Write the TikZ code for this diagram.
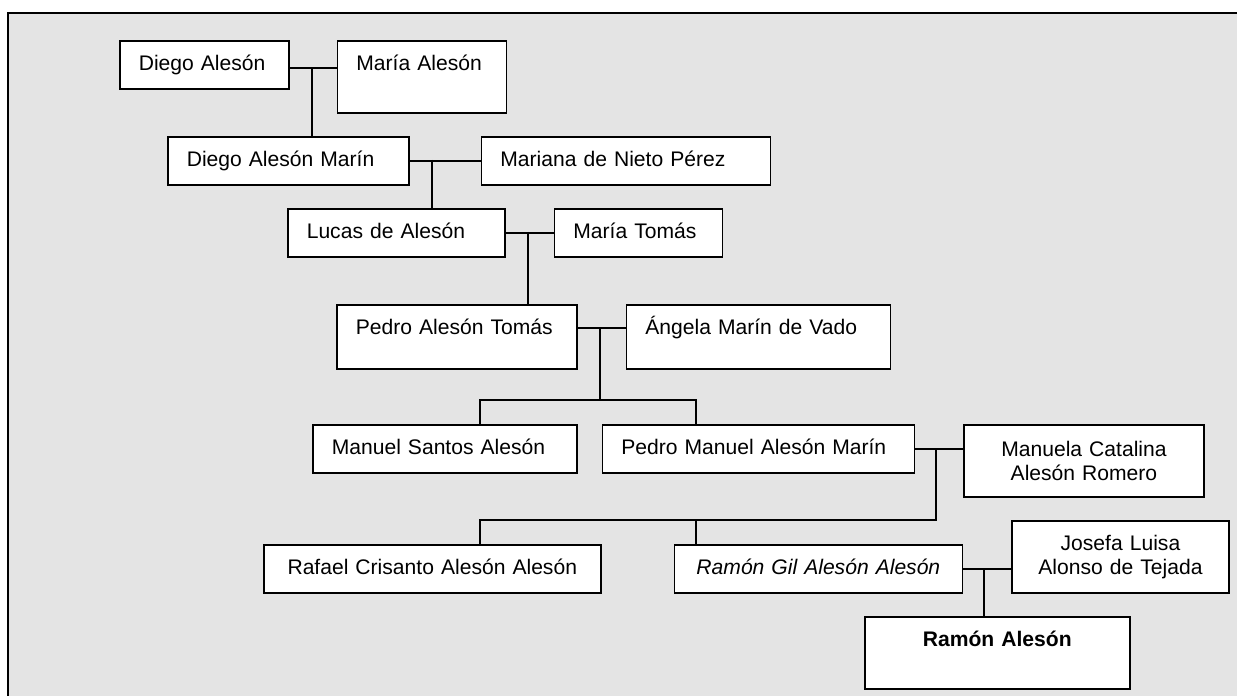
\documentclass[tikz,border=0pt]{standalone}
\usepackage{fontspec}
\setmainfont{Liberation Sans}
\usepackage{tikz}
\usetikzlibrary{positioning}
\definecolor{famgray}{RGB}{228,228,228}
\tikzstyle{box} = [rectangle, draw=black, fill=white, line width=0.9pt, anchor=north west, inner xsep=0.38cm, inner ysep=0.265cm, font=\fontsize{12pt}{13.66pt}\selectfont]
\tikzstyle{person} = [box, text height=0.33cm, text depth=0.1cm, align=left]
\tikzstyle{tall} = [text depth=0.58cm]
\tikzstyle{twoline} = [box, minimum height=1.44cm, align=center]
\tikzstyle{link} = [line width=0.9pt]

\begin{document}
\begin{tikzpicture}
\useasboundingbox (0,0) rectangle (24.74,-13.92);
% frame
\fill[famgray] (0.16,-0.26) rectangle (25,-14.2);
\draw[line width=1.3pt] (0.16,-14.2) -- (0.16,-0.26) -- (25,-0.26);

% ancestors
\node (diego1) [person, text width=2.62cm] at (2.38,-0.80) {Diego Alesón};
\node (maria1) [person, tall, text width=2.62cm, right=0.94cm of diego1.north east, anchor=north west] {María Alesón};
\node (diego2) [person, text width=4.06cm] at (3.34,-2.72) {Diego Alesón Marín};
\node (mariana) [person, text width=5.02cm, right=1.42cm of diego2.north east, anchor=north west] {Mariana de Nieto Pérez};
\node (lucas) [person, text width=3.58cm] at (5.74,-4.16) {Lucas de Alesón};
\node (maria2) [person, text width=2.60cm, right=0.96cm of lucas.north east, anchor=north west] {María Tomás};
\node (pedro1) [person, text depth=0.42cm, text width=4.04cm] at (6.72,-6.08) {Pedro Alesón Tomás};
\node (angela) [person, text depth=0.42cm, text width=4.52cm, right=0.96cm of pedro1.north east, anchor=north west] {Ángela Marín de Vado};

% children
\node (manuel) [person, text width=4.52cm] at (6.24,-8.48) {Manuel Santos Alesón};
\node (pedro2) [person, text width=5.48cm, right=0.48cm of manuel.north east, anchor=north west] {Pedro Manuel Alesón Marín};
\node (manuela) [twoline, text width=4.04cm, right=0.96cm of pedro2.north east, anchor=north west] {Manuela Catalina\\Alesón Romero};
\node (rafael) [person, align=center, text width=5.98cm] at (5.26,-10.88) {Rafael Crisanto Alesón Alesón};
\node (ramon1) [person, align=center, text width=5.00cm, right=1.44cm of rafael.north east, anchor=north west] {\itshape Ramón Gil Alesón Alesón};
\node (josefa) [twoline, text width=3.58cm, right=0.96cm of ramon1.north east, yshift=0.48cm, anchor=north west] {Josefa Luisa\\Alonso de Tejada};
\node (ramon2) [person, tall, align=center, text width=4.54cm] at (17.28,-12.32) {\bfseries Ramón Alesón};

% junctions
\coordinate (j1) at (6.24,-1.36);
\coordinate (j2) at (8.64,-3.20);
\coordinate (j3) at (10.56,-4.64);
\coordinate (j4) at (12.00,-6.56);
\coordinate (b1) at (9.60,-8.00);
\coordinate (b2) at (13.92,-8.00);
\coordinate (j6) at (18.72,-8.96);
\coordinate (b3) at (9.60,-10.40);
\coordinate (b4) at (13.92,-10.40);
\coordinate (j7) at (19.68,-11.36);

\draw[link] (diego1.east |- j1) -- (maria1.west |- j1);
\draw[link] (j1) -- (j1 |- diego2.north);
\draw[link] (diego2.east) -- (mariana.west);
\draw[link] (j2) -- (j2 |- lucas.north);
\draw[link] (lucas.east) -- (maria2.west);
\draw[link] (j3) -- (j3 |- pedro1.north);
\draw[link] (pedro1.east |- j4) -- (angela.west |- j4);
\draw[link] (j4) -- (j4 |- b1);
\draw[link] (b1 |- manuel.north) -- (b1) -- (b2) -- (b2 |- pedro2.north);
\draw[link] (pedro2.east) -- (manuela.west |- pedro2.east);
\draw[link] (j6) -- (j6 |- b3) -- (b3) -- (b3 |- rafael.north);
\draw[link] (b4) -- (b4 |- ramon1.north);
\draw[link] (ramon1.east) -- (josefa.west |- ramon1.east);
\draw[link] (j7) -- (j7 |- ramon2.north);
\end{tikzpicture}
\end{document}
